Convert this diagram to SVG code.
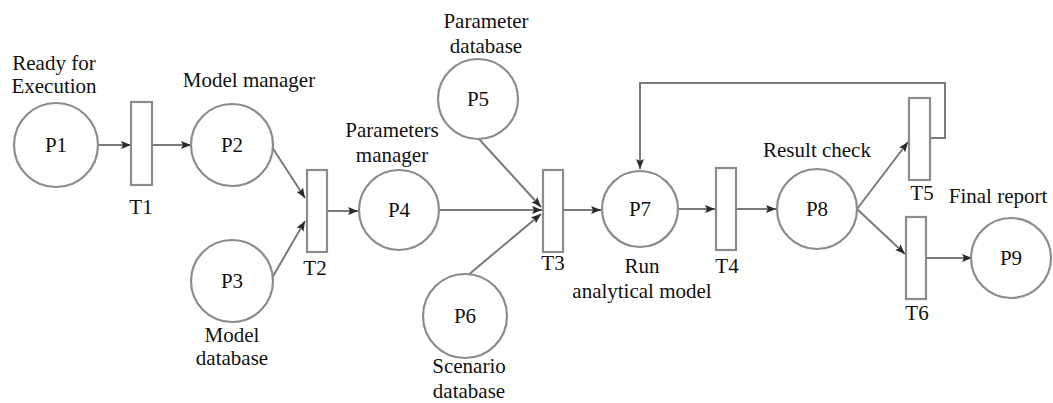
<svg xmlns="http://www.w3.org/2000/svg" width="1053" height="403" viewBox="0 0 1053 403">
<style>
.place{fill:#fff;stroke:#8c8c8c;stroke-width:2.2}
.trans{fill:#fff;stroke:#8c8c8c;stroke-width:2.2}
.arc{fill:none;stroke:#7a7a7a;stroke-width:2}
text{font-family:"Liberation Serif",Tinos,"Times New Roman","Noto Serif",FreeSerif,"DejaVu Serif",serif;font-size:21px;fill:#111;text-anchor:middle}
</style>
<defs>
<marker id="ah" markerUnits="userSpaceOnUse" markerWidth="10" markerHeight="8" refX="10" refY="4" orient="auto">
<path d="M0,0 L10,4 L0,8 L2,4 Z" fill="#2a2a2a"/>
</marker>
</defs>
<rect width="1053" height="403" fill="#fff"/>
<g id="connectors">
<line class="arc" x1="98" y1="145" x2="131" y2="145" marker-end="url(#ah)"/>
<line class="arc" x1="152" y1="145" x2="191" y2="145" marker-end="url(#ah)"/>
<line class="arc" x1="272" y1="147" x2="305" y2="198" marker-end="url(#ah)"/>
<line class="arc" x1="272" y1="278" x2="305" y2="221" marker-end="url(#ah)"/>
<line class="arc" x1="327" y1="211" x2="358" y2="211" marker-end="url(#ah)"/>
<line class="arc" x1="479" y1="139" x2="541" y2="207" marker-end="url(#ah)"/>
<line class="arc" x1="438" y1="210" x2="542" y2="210" marker-end="url(#ah)"/>
<line class="arc" x1="467" y1="276" x2="541" y2="214" marker-end="url(#ah)"/>
<line class="arc" x1="563" y1="210" x2="601" y2="210" marker-end="url(#ah)"/>
<line class="arc" x1="678" y1="209" x2="715" y2="209" marker-end="url(#ah)"/>
<line class="arc" x1="736" y1="209" x2="776" y2="209" marker-end="url(#ah)"/>
<line class="arc" x1="857" y1="209" x2="908" y2="142" marker-end="url(#ah)"/>
<line class="arc" x1="857" y1="209" x2="905" y2="254" marker-end="url(#ah)"/>
<line class="arc" x1="926" y1="258" x2="972" y2="258" marker-end="url(#ah)"/>
<polyline class="arc" points="930,138 945,138 945,83 640,83 640,169" marker-end="url(#ah)"/>
</g>
<g id="P1"><circle class="place" cx="56" cy="145" r="42"/><text x="56" y="152">P1</text><text x="54" y="70">Ready for</text><text x="54" y="93">Execution</text></g>
<g id="T1"><rect class="trans" x="131" y="102" width="21" height="83"/><text x="141" y="214">T1</text></g>
<g id="P2"><circle class="place" cx="232" cy="145" r="41"/><text x="232" y="152">P2</text><text x="249" y="87">Model manager</text></g>
<g id="P3"><circle class="place" cx="232" cy="281" r="41"/><text x="232" y="288">P3</text><text x="232" y="342">Model</text><text x="232" y="365">database</text></g>
<g id="T2"><rect class="trans" x="307" y="170" width="20" height="82"/><text x="315" y="275">T2</text></g>
<g id="P4"><circle class="place" cx="399" cy="210" r="40"/><text x="399" y="217">P4</text><text x="392" y="137">Parameters</text><text x="392" y="162">manager</text></g>
<g id="P5"><circle class="place" cx="478" cy="99" r="40"/><text x="478" y="106">P5</text><text x="486" y="28">Parameter</text><text x="486" y="53">database</text></g>
<g id="P6"><circle class="place" cx="465" cy="316" r="42"/><text x="465" y="323">P6</text><text x="469" y="373">Scenario</text><text x="469" y="398">database</text></g>
<g id="T3"><rect class="trans" x="543" y="170" width="20" height="82"/><text x="553" y="270">T3</text></g>
<g id="P7"><circle class="place" cx="640" cy="209" r="38"/><text x="640" y="216">P7</text><text x="642" y="273">Run</text><text x="642" y="298">analytical model</text></g>
<g id="T4"><rect class="trans" x="716" y="168" width="20" height="82"/><text x="727" y="273">T4</text></g>
<g id="P8"><circle class="place" cx="817" cy="209" r="40"/><text x="817" y="216">P8</text><text x="817" y="157">Result check</text></g>
<g id="T5"><rect class="trans" x="909" y="98" width="21" height="82"/><text x="922" y="200">T5</text></g>
<g id="T6"><rect class="trans" x="906" y="217" width="20" height="82"/><text x="917" y="320">T6</text></g>
<g id="P9"><circle class="place" cx="1011" cy="258" r="40"/><text x="1011" y="265">P9</text><text x="998" y="203">Final report</text></g>
</svg>
